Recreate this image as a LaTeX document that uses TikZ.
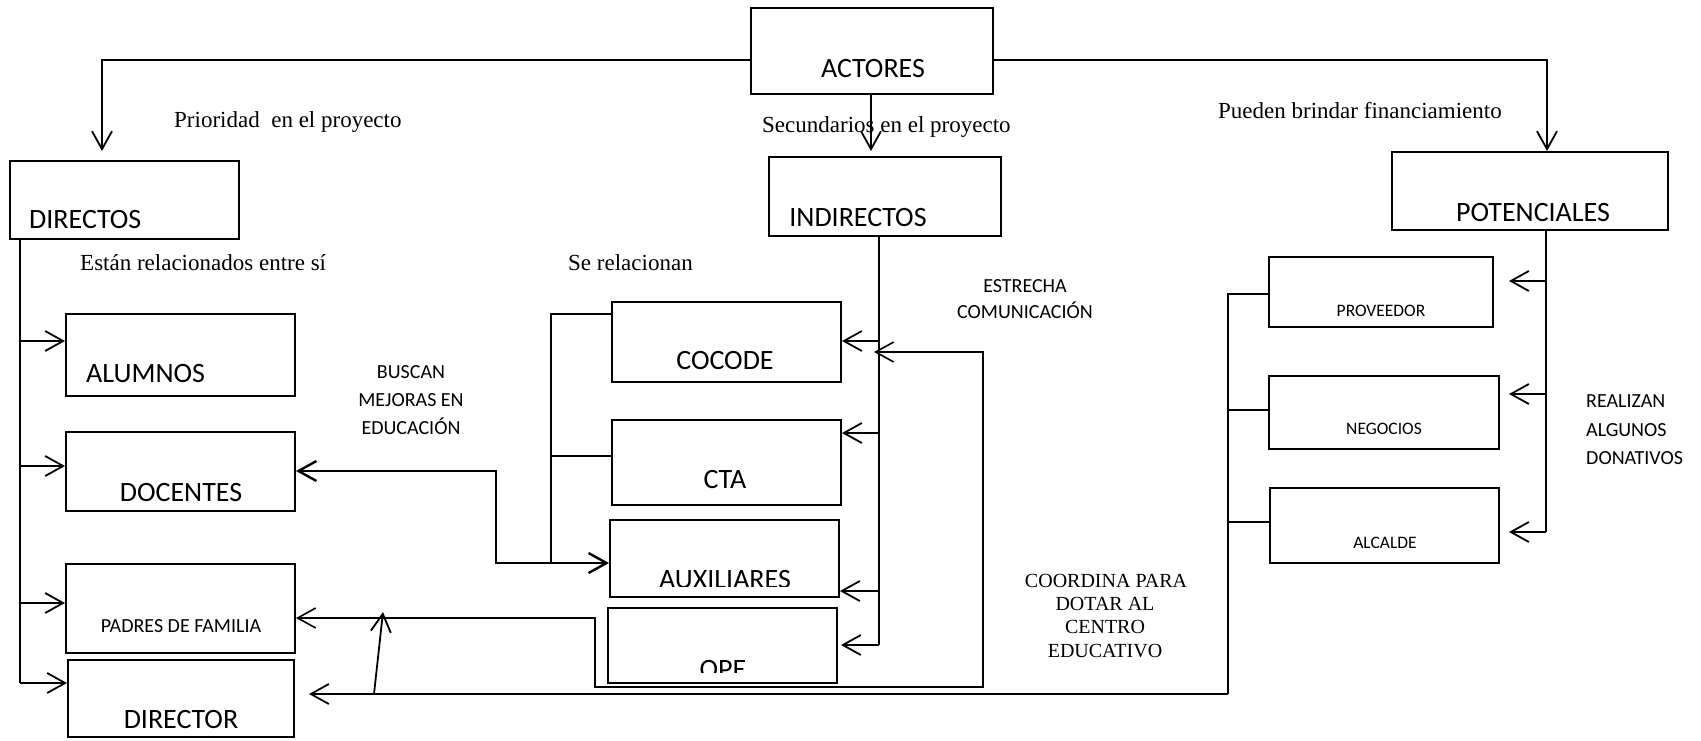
\documentclass[tikz,border=0pt]{standalone}
\usepackage{fontspec}
\setmainfont{Liberation Serif}
\newfontfamily\calib{Carlito}
\usetikzlibrary{arrows.meta}
\begin{document}
\begin{tikzpicture}[x=1pt,y=-1pt,
  box/.style 2 args={draw, line width=2pt, inner sep=0pt, minimum width=#1, minimum height=#2},
  big/.style={font=\calib\fontsize{28}{30}\selectfont, inner sep=0pt, anchor=base},
  small/.style={font=\calib\fontsize{17.5}{20}\selectfont, inner sep=0pt, anchor=base},
  cal/.style={font=\calib\fontsize{20}{24}\selectfont, inner sep=0pt, anchor=base},
  tms/.style={font=\fontsize{23}{27}\selectfont, inner sep=0pt, anchor=base west},
  tmsc/.style={font=\fontsize{20}{23}\selectfont, inner sep=0pt, anchor=base},
  tipb/.tip={Straight Barb[length=18pt,width=20pt]},
  arr/.style={line width=1.8pt, -tipb},
  arrs/.style={line width=1.8pt, tipb-tipb},
  ln/.style={line width=1.3pt},
  lnb/.style={line width=1.8pt}
]
\path[fill=white] (0,0) rectangle (1701,740);
\useasboundingbox (0,0) rectangle (1701,740);

% boxes
\node[box={242}{86}] (actores) at (872,51) {};
\node[box={229}{78}] (directos) at (124.5,200) {};
\node[box={232}{79}] (indirectos) at (885,196.5) {};
\node[box={276}{78}] (potenciales) at (1530,191) {};
\node[box={229}{82}] (alumnos) at (180.5,355) {};
\node[box={229}{79}] (docentes) at (180.5,471.5) {};
\node[box={229}{89}] (padres) at (180.5,608.5) {};
\node[box={226}{77}] (director) at (181,698.5) {};
\node[box={229}{80}] (cocode) at (726.5,342) {};
\node[box={229}{85}] (cta) at (726.5,462.5) {};
\node[box={229}{77}] (auxiliares) at (724.5,558.5) {};
\node[box={229}{75}] (ope) at (722.5,645.5) {};
\node[box={224}{70}] (proveedor) at (1381,292) {};
\node[box={230}{73}] (negocios) at (1384,412.5) {};
\node[box={229}{75}] (alcalde) at (1384.5,525.5) {};

% box texts
\node[big] (tactores) at (873,77) {ACTORES};
\node[big, anchor=base west] (tdirectos) at (29,228.5) {DIRECTOS};
\node[big] (tindirectos) at (858,226) {INDIRECTOS};
\node[big] (tpotenciales) at (1533,221) {POTENCIALES};
\node[big, anchor=base west] (talumnos) at (86,382) {ALUMNOS};
\node[big] (tdocentes) at (181,501) {DOCENTES};
\node[cal] (tpadres) at (181,632.5) {PADRES DE FAMILIA};
\node[big] (tdirector) at (181,728) {DIRECTOR};
\node[big] (tcocode) at (725,369) {COCODE};
\node[big] (tcta) at (725,488) {CTA};
\begin{scope}
  \clip (600,515) rectangle (850,586);
  \node[big] (tauxiliares) at (725,588) {AUXILIARES};
\end{scope}
\begin{scope}
  \clip (600,605) rectangle (850,672);
  \node[big] (tope) at (723,678) {OPE};
\end{scope}
\node[small] (tproveedor) at (1381,316) {PROVEEDOR};
\node[small] (tnegocios) at (1384,434.5) {NEGOCIOS};
\node[small] (talcalde) at (1385,548.5) {ALCALDE};

% labels
\node[tms] (lprioridad) at (174,127) {Prioridad\ \ en el proyecto};
\node[tms] (lsecund) at (762,132) {Secundarios en el proyecto};
\node[tms] (lpueden) at (1218,118) {Pueden brindar financiamiento};
\node[tms] (lestan) at (80,270) {Están relacionados entre sí};
\node[tms] (lserel) at (568,270) {Se relacionan};

\node[cal] (lestrecha1) at (1025,292) {ESTRECHA};
\node[cal] (lestrecha2) at (1025,318) {COMUNICACIÓN};
\node[cal] (lbuscan1) at (411,378) {BUSCAN};
\node[cal] (lbuscan2) at (411,406) {MEJORAS EN};
\node[cal] (lbuscan3) at (411,434) {EDUCACIÓN};
\node[cal, anchor=base west] (lrealizan1) at (1586,407.5) {REALIZAN};
\node[cal, anchor=base west] (lrealizan2) at (1586,436.5) {ALGUNOS};
\node[cal, anchor=base west] (lrealizan3) at (1586,464) {DONATIVOS};

\node[tmsc] (lcoord1) at (1106,587) {COORDINA PARA};
\node[tmsc] (lcoord2) at (1105,610) {DOTAR AL};
\node[tmsc] (lcoord3) at (1105,633.5) {CENTRO};
\node[tmsc] (lcoord4) at (1105,657) {EDUCATIVO};

% ACTORES to groups
\coordinate (tipdir) at (102,151);
\coordinate (tipind) at (871,151);
\coordinate (tippot) at (1547,151);
\draw[arr] (actores.west |- 0,60) -| (tipdir);
\draw[arr] (actores.south -| tipind) -- (tipind);
\draw[arr] (actores.east |- 0,60) -| (tippot);

% DIRECTOS branch
\draw[lnb] (directos.south -| 20,0) -- (20,683);
\draw[arr] (20,341) -- (alumnos.west |- 0,341);
\draw[arr] (20,466) -- (docentes.west |- 0,466);
\draw[arr] (20,603) -- (padres.west |- 0,603);
\draw[arr] (20,683) -- (director.west |- 0,683);

% INDIRECTOS branch
\draw[ln] (indirectos.south -| 879,0) -- (879,645);
\draw[arr] (879,341) -- (cocode.east |- 0,341);
\draw[arr] (879,433) -- (cta.east |- 0,433);
\draw[arr] (879,591) -- (auxiliares.east |- 0,591);
\draw[arr] (879,645) -- ([xshift=3pt]ope.east |- 0,645);

% POTENCIALES branch
\draw[ln] (potenciales.south -| 1546,0) -- (1546,532);
\draw[arr] (1546,281) -- ([xshift=15pt]proveedor.east |- 0,281);
\draw[arr] (1546,394) -- ([xshift=9pt]negocios.east |- 0,394);
\draw[arr] (1546,532) -- ([xshift=9pt]alcalde.east |- 0,532);

% Se relacionan bracket
\draw[ln] (cocode.west |- 0,314) -- (551,314) -- (551,563);
\draw[ln] (551,456) -- (cta.west |- 0,456);

% docentes <-> auxiliares
\draw[arrs, line width=2.4pt] (docentes.east |- 0,471) -- (496,471) -- (496,563) -- (auxiliares.west |- 0,563);

% padres <-> estrecha comunicacion
\coordinate (tipcom) at (874,352);
\draw[arrs, line width=1.6pt] (padres.east |- 0,618) -- (595,618) -- (595,687) -- (983,687) -- (983,352) -- (tipcom);

% potenciales bracket to director
\draw[ln] (proveedor.west |- 0,294) -- (1228,294) -- (1228,694);
\draw[ln] (1228,410) -- (negocios.west |- 0,410);
\draw[ln] (1228,522) -- (alcalde.west |- 0,522);
\coordinate (tipdirector) at (309,694);
\draw[arr] (1228,694) -- (tipdirector);
\coordinate (upbase) at (374,694);
\coordinate (uptip) at (383,612);
\draw[arr] (upbase) -- (uptip);
\end{tikzpicture}
\end{document}
